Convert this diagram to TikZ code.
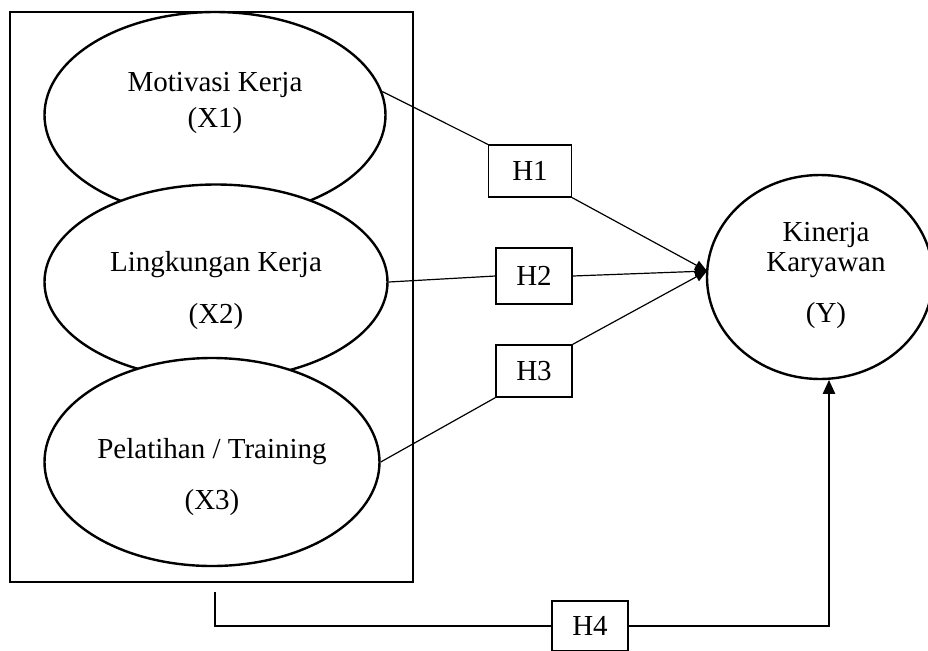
\documentclass[tikz,border=0pt]{standalone}
\usepackage{fontspec}
\setmainfont{Liberation Serif}
\usetikzlibrary{shapes.geometric,arrows.meta}

\begin{document}
\begin{tikzpicture}[x=0.5pt,y=-0.5pt,
	var/.style={ellipse,draw,fill=white,line width=1.2pt,inner sep=0pt},
	hyp/.style={draw,line width=0.6pt,minimum width=38pt,minimum height=26pt,inner sep=0pt,font=\fontsize{14.5}{18}\selectfont},
	txt/.style={align=center,inner sep=0pt,font=\fontsize{14.5}{18}\selectfont},
	link/.style={line width=0.6pt},
	tip/.style={-{Triangle[width=5pt,length=6pt]}}]
		\useasboundingbox (0,0) rectangle (928,650);
		\draw[line width=0.6pt] (10,12) rectangle (413,582);
		\node (E1) [var,minimum width=170.5pt,minimum height=103pt] at (215,115) {};
		\node (E2) [var,minimum width=171.5pt,minimum height=97.5pt] at (216,282) {};
		\node (E3) [var,minimum width=167.5pt,minimum height=104pt] at (212,462) {};
		\node (Y) [var,minimum width=113pt,minimum height=102pt] at (820,277) {};
		\node (T1) [txt] at (215,103) {Motivasi Kerja\\(X1)};
		\node (T2) [txt] at (216,291) {Lingkungan Kerja\\[8pt](X2)};
		\node (T3) [txt] at (212,477) {Pelatihan / Training\\[7.5pt](X3)};
		\node (TY) [txt] at (826,275) {Kinerja\\[-3pt]Karyawan\\[7.5pt](Y)};
		\node (H1) [hyp,minimum width=41.5pt] at (530,171) {H1};
		\node (H2) [hyp,minimum height=28pt] at (534,276) {H2};
		\node (H3) [hyp] at (534,371) {H3};
		\node (H4) [hyp,minimum height=25pt] at (590,626) {H4};
		\coordinate (J) at (707,271);
		\coordinate (A) at (215,592);
		\draw[link] (E1.8) -- (H1.north west);
		\draw[link] (E2.east) -- (H2.west);
		\draw[link] (E3.east) -- (H3.south west);
		\draw[link,tip] (H1.south east) -- (J);
		\draw[link,tip] (H2.east) -- (J);
		\draw[link,tip] (H3.north east) -- (J);
		\draw[link] (A) |- (H4.west);
		\draw[line width=1.3pt,-{Triangle[width=6pt,length=7pt]}] (H4.east) -| (Y.-85);
\end{tikzpicture}
\end{document}
